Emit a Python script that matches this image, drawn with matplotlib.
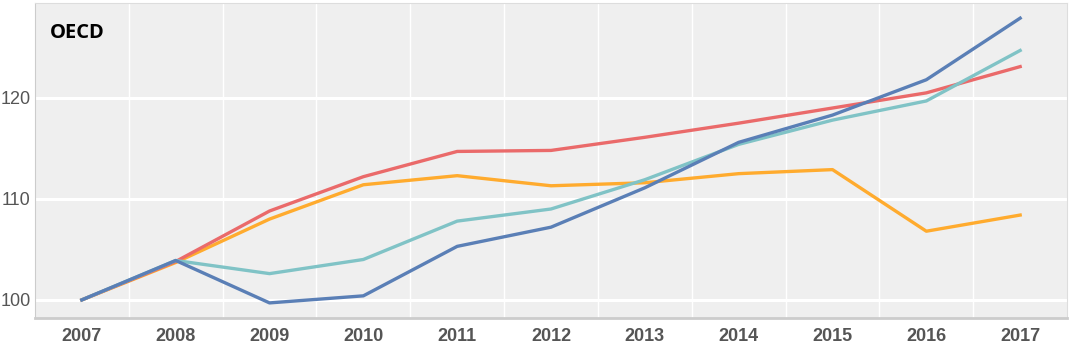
import matplotlib
matplotlib.use('Agg')
import matplotlib.pyplot as plt
import numpy as np

# years and index values (2007 = 100)
years = [2007, 2008, 2009, 2010, 2011, 2012, 2013, 2014, 2015, 2016, 2017]
blue = [100, 103.9, 99.7, 100.4, 105.3, 107.2, 111.1, 115.6, 118.3, 121.8, 127.9]
teal = [100, 103.9, 102.6, 104.0, 107.8, 109.0, 111.9, 115.4, 117.8, 119.7, 124.7]
red = [100, 103.8, 108.8, 112.2, 114.7, 114.8, 116.1, 117.5, 119.0, 120.5, 123.1]
orange = [100, 103.7, 108.0, 111.4, 112.3, 111.3, 111.6, 112.5, 112.9, 106.8, 108.4]
y_ticks = [100, 110, 120]

plt.rcParams['font.family'] = ['Liberation Sans Narrow', 'Liberation Sans', 'DejaVu Sans']

fig = plt.figure(figsize=(10.69, 3.53), dpi=100)
ax = fig.add_axes([0.0327, 0.099, 0.9655, 0.8925])
ax.set_facecolor('#efefef')

# grid: horizontal at ticks, vertical between years
for v in y_ticks:
    ax.axhline(v, color='white', linewidth=2.2, zorder=1)
for yr in years[:-1]:
    ax.axvline(yr + 0.5, color='white', linewidth=1.0, zorder=1)

ax.plot(years, orange, color='#ffab2e', linewidth=2.4, zorder=3)
ax.plot(years, red, color='#ea6a6a', linewidth=2.4, zorder=3)
ax.plot(years, teal, color='#80c3c6', linewidth=2.4, zorder=3)
ax.plot(years, blue, color='#5a7fb6', linewidth=2.4, zorder=4)

ax.set_xlim(2006.5, 2017.5)
ax.set_ylim(98.2, 129.4)
ax.set_xticks(years)
ax.set_xticklabels([str(y) for y in years], fontsize=13, fontweight='bold', color='#555555')
ax.set_yticks(y_ticks)
ax.set_yticklabels([str(v) for v in y_ticks], fontsize=13, color='#555555')
ax.tick_params(length=0, pad=7)
ax.tick_params(axis='y', pad=3)

for side in ['top', 'right']:
    ax.spines[side].set_color('#dddddd')
ax.spines['left'].set_color('#cccccc')
ax.spines['bottom'].set_color('#cccccc')
ax.spines['bottom'].set_linewidth(2)

ax.text(0.0145, 0.905, 'OECD', transform=ax.transAxes, fontsize=14.5, fontweight='bold',
        family=['Open Sans', 'DejaVu Sans'], color='black', va='center', ha='left')

fig.savefig('out.png', dpi=100)
